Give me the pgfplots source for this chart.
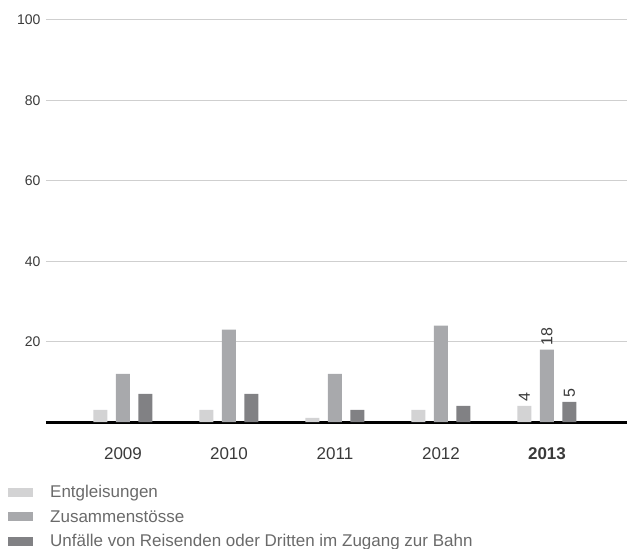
\documentclass[border=0pt]{standalone}
\usepackage{pgfplots}
\pgfplotsset{compat=1.18}
\usepackage{fontspec}
\setmainfont{Liberation Sans}
\definecolor{cLight}{HTML}{D3D3D4}
\definecolor{cMid}{HTML}{A8A9AC}
\definecolor{cDark}{HTML}{818184}
\definecolor{cGrid}{HTML}{CFCFCF}
\definecolor{cText}{HTML}{3A3A3A}
\definecolor{cLeg}{HTML}{6A6A6A}
\begin{document}
\begin{tikzpicture}
\useasboundingbox (-46pt,-127pt) rectangle (581pt,422pt);
\begin{axis}[
  at={(0,0)}, anchor=south west,
  scale only axis, width=581pt, height=402pt,
  xmin=-0.726, xmax=4.755, ymin=0, ymax=100,
  ytick={20,40,60,80,100},
  xtick={0,1,2,3,4},
  xticklabels={2009,2010,2011,2012,\textbf{2013}},
  /pgf/number format/assume math mode=true,
  xticklabel style={font=\fontsize{17}{19}\selectfont, text=cText, yshift=-22pt},
  yticklabel style={font=\fontsize{14}{16}\selectfont, text=cText, xshift=-2pt},
  major tick length=0pt,
  ymajorgrids, grid style={cGrid, line width=1pt},
  axis x line*=bottom, axis y line*=left,
  y axis line style={draw=none},
  x axis line style={draw=black, line width=3pt},
  clip=false,
  ybar, bar width=14pt,
  legend style={at={(-0.0654,-0.152)}, anchor=north west, draw=none, fill=none,
    font=\fontsize{17}{19}\selectfont, text=cLeg, row sep=6.5pt, inner sep=0pt,
    cells={anchor=west, text height=12.5pt, text depth=3.5pt, inner xsep=0pt}},
  legend cell align=left,
  legend image code/.code={\fill[#1] (0pt,-4.5pt) rectangle (25pt,4.5pt);},
  nodes near coords,
  point meta=explicit symbolic,
  every node near coord/.append style={rotate=90, anchor=west, font=\fontsize{16}{18}\selectfont, text=cText, inner sep=4pt},
]
\addplot[fill=cLight, draw=none, bar shift=-22.5pt] coordinates {(0,3) [] (1,3) [] (2,1) [] (3,3) [] (4,4) [4]};
\addplot[fill=cMid, draw=none, bar shift=0pt] coordinates {(0,12) [] (1,23) [] (2,12) [] (3,24) [] (4,18) [18]};
\addplot[fill=cDark, draw=none, bar shift=22.5pt] coordinates {(0,7) [] (1,7) [] (2,3) [] (3,4) [] (4,5) [5]};
\legend{\hspace{15pt}Entgleisungen, \hspace{15pt}Zusammenstösse, \hspace{15pt}Unfälle von Reisenden oder Dritten im Zugang zur Bahn}
\end{axis}
\end{tikzpicture}
\end{document}
